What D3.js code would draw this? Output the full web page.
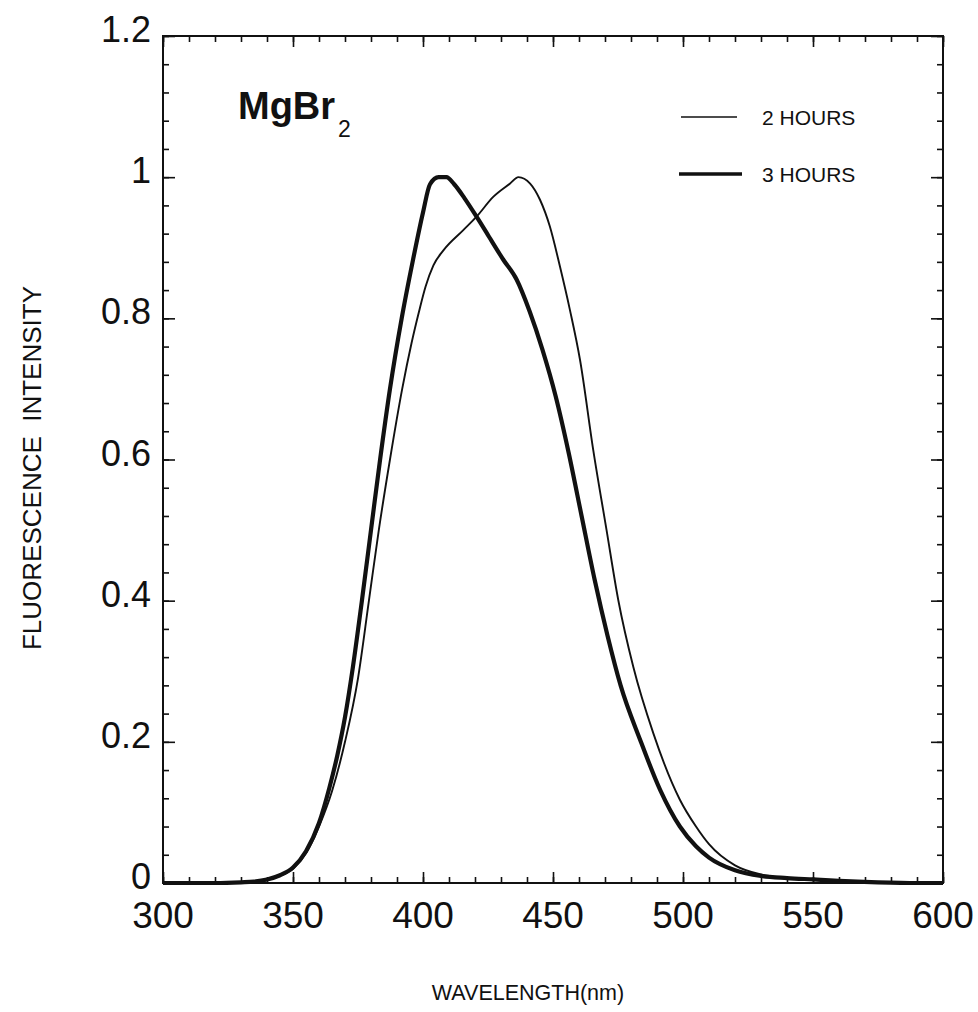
<!DOCTYPE html>
<html>
<head>
<meta charset="utf-8">
<script src="https://cdn.jsdelivr.net/npm/d3@7"></script>
<style>
  html, body { margin: 0; padding: 0; background: #fff; }
  svg { display: block; font-family: "Liberation Sans", Arial, sans-serif; }
</style>
</head>
<body>
<svg id="chart" width="978" height="1012"></svg>
<script>
// ---- data ----
const wl2h = [300, 310, 320, 330, 335, 340, 345, 350, 355, 360, 365, 370, 375, 379.2, 383, 387.3, 392, 395.6, 398.5, 401, 404, 408, 415.5, 420.6, 427, 433.5, 436.7, 441.2, 445, 448.8, 452.7, 456.5, 460.4, 465.5, 470.6, 475.1, 480.9, 488.6, 498.8, 505, 510, 520, 530, 540, 550, 560, 575, 590, 600];
const int2h = [0, 0, 0, 0.001, 0.002, 0.004, 0.01, 0.02, 0.042, 0.08, 0.13, 0.2, 0.29, 0.4, 0.5, 0.6, 0.7, 0.765, 0.81, 0.845, 0.875, 0.897, 0.925, 0.944, 0.972, 0.991, 1.0, 0.991, 0.968, 0.93, 0.873, 0.812, 0.741, 0.613, 0.5, 0.401, 0.306, 0.212, 0.118, 0.08, 0.055, 0.025, 0.012, 0.007, 0.005, 0.003, 0.001, 0, 0];

const wl3h = [300, 310, 320, 330, 335, 340, 345, 350, 355, 360, 364, 367, 370, 373, 376.5, 380, 383.5, 387.3, 391.8, 396, 400, 402.7, 406, 409, 412, 416, 420.6, 425, 430.9, 436, 441, 446, 451, 456, 461, 466, 471, 476, 483.5, 491.2, 498.8, 505, 510, 520, 530, 540, 550, 560, 575, 590, 600];
const int3h = [0, 0, 0, 0.001, 0.002, 0.005, 0.011, 0.022, 0.045, 0.085, 0.135, 0.18, 0.235, 0.305, 0.4, 0.5, 0.6, 0.7, 0.8, 0.88, 0.95, 0.99, 1.0, 1.0, 0.99, 0.97, 0.944, 0.918, 0.883, 0.855, 0.81, 0.755, 0.69, 0.61, 0.52, 0.43, 0.35, 0.28, 0.203, 0.132, 0.08, 0.052, 0.036, 0.018, 0.01, 0.007, 0.005, 0.003, 0.001, 0, 0];

const seriesNames = ["2 HOURS", "3 HOURS"];
const xTickValues = [300, 350, 400, 450, 500, 550, 600];
const yTickValues = [0, 0.2, 0.4, 0.6, 0.8, 1, 1.2];
const yTickLabels = ["0", "0.2", "0.4", "0.6", "0.8", "1", "1.2"];

// ---- layout ----
const svg = d3.select("#chart");
const L = 163, R = 943, T = 36, B = 883;
const x = d3.scaleLinear().domain([300, 600]).range([L, R]);
const y = d3.scaleLinear().domain([0, 1.2]).range([B, T]);

const ink = "#111";

// frame
svg.append("rect").attr("x", L).attr("y", T).attr("width", R - L).attr("height", B - T)
  .attr("fill", "none").attr("stroke", ink).attr("stroke-width", 2);

// ticks (inward) via d3 axes
const xMinor = d3.range(300, 601, 10);
const yMinor = d3.range(0, 1.2001, 0.04);

function noDomain(g) { g.select(".domain").remove(); g.selectAll("line").attr("stroke", ink).attr("stroke-width", 1.6); }

svg.append("g").attr("transform", `translate(0,${B})`)
  .call(d3.axisTop(x).tickValues(xMinor).tickSize(6).tickFormat("")).call(noDomain);
svg.append("g").attr("transform", `translate(0,${B})`)
  .call(d3.axisTop(x).tickValues(xTickValues).tickSize(11).tickFormat("")).call(noDomain);
svg.append("g").attr("transform", `translate(0,${T})`)
  .call(d3.axisBottom(x).tickValues(xMinor).tickSize(6).tickFormat("")).call(noDomain);
svg.append("g").attr("transform", `translate(0,${T})`)
  .call(d3.axisBottom(x).tickValues(xTickValues).tickSize(11).tickFormat("")).call(noDomain);

svg.append("g").attr("transform", `translate(${L},0)`)
  .call(d3.axisRight(y).tickValues(yMinor).tickSize(6).tickFormat("")).call(noDomain);
svg.append("g").attr("transform", `translate(${L},0)`)
  .call(d3.axisRight(y).tickValues(yTickValues).tickSize(12).tickFormat("")).call(noDomain);
svg.append("g").attr("transform", `translate(${R},0)`)
  .call(d3.axisLeft(y).tickValues(yMinor).tickSize(6).tickFormat("")).call(noDomain);
svg.append("g").attr("transform", `translate(${R},0)`)
  .call(d3.axisLeft(y).tickValues(yTickValues).tickSize(12).tickFormat("")).call(noDomain);

// tick labels
svg.append("g").selectAll("text").data(xTickValues).join("text")
  .attr("x", d => x(d)).attr("y", 928)
  .attr("text-anchor", "middle").attr("font-size", 37).attr("fill", ink)
  .text(d => d);

svg.append("g").selectAll("text").data(yTickValues).join("text")
  .attr("x", 151).attr("y", d => y(d) + 6)
  .attr("text-anchor", "end").attr("font-size", 36).attr("fill", ink)
  .text((d, i) => yTickLabels[i]);

// axis titles
svg.append("text").attr("x", 528).attr("y", 1000).attr("text-anchor", "middle")
  .attr("font-size", 21.5).attr("fill", ink).text("WAVELENGTH(nm)");
svg.append("text").attr("transform", "translate(41,468) rotate(-90)")
  .attr("text-anchor", "middle").attr("font-size", 26).attr("fill", ink)
  .attr("xml:space", "preserve")
  .text("FLUORESCENCE  INTENSITY");

// MgBr2 label
const lab = svg.append("text").attr("x", 238).attr("y", 119).attr("fill", ink);
lab.append("tspan").attr("font-size", 38).attr("font-weight", "bold").text("MgBr");
lab.append("tspan").attr("font-size", 23).attr("dx", 3).attr("dy", 18).text("2");

// curves
const line = d3.line().x(d => x(d[0])).y(d => y(d[1])).curve(d3.curveMonotoneX);
const d2 = wl2h.map((w, i) => [w, int2h[i]]);
const d3h = wl3h.map((w, i) => [w, int3h[i]]);

svg.append("path").datum(d2).attr("d", line).attr("fill", "none")
  .attr("stroke", ink).attr("stroke-width", 1.9).attr("stroke-linejoin", "round");
svg.append("path").datum(d3h).attr("d", line).attr("fill", "none")
  .attr("stroke", ink).attr("stroke-width", 4.2).attr("stroke-linejoin", "round");

// legend
const legend = [
  { name: seriesNames[0], y: 117, w: 1.6, x1: 681, x2: 737 },
  { name: seriesNames[1], y: 174, w: 3.6, x1: 679, x2: 742 }
];
const lg = svg.append("g");
legend.forEach(l => {
  lg.append("line").attr("x1", l.x1).attr("x2", l.x2).attr("y1", l.y).attr("y2", l.y)
    .attr("stroke", ink).attr("stroke-width", l.w);
  lg.append("text").attr("x", 762).attr("y", l.y + 8).attr("font-size", 21)
    .attr("fill", ink).text(l.name);
});
</script>
</body>
</html>
